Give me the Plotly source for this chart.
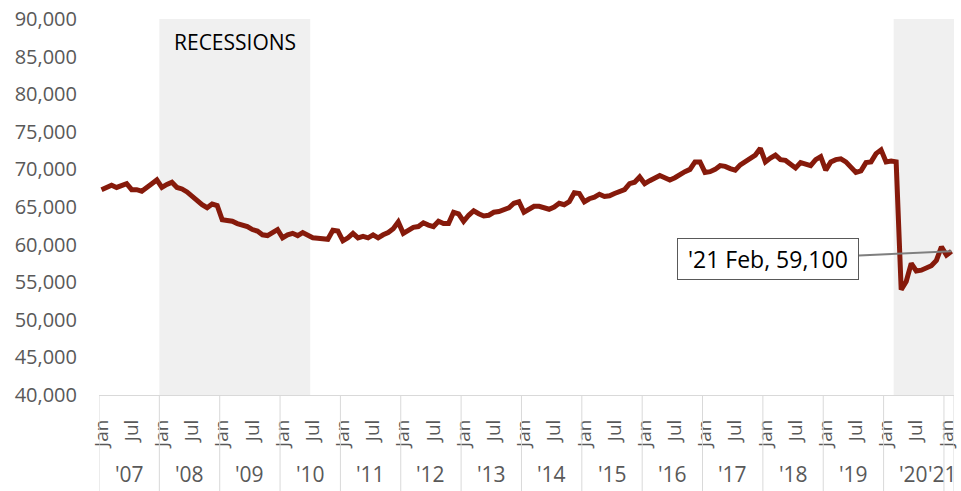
import plotly.graph_objects as go

# monthly values, Jan 2007 .. Feb 2021
month_names = ["Jan", "Feb", "Mar", "Apr", "May", "Jun",
               "Jul", "Aug", "Sep", "Oct", "Nov", "Dec"]
years = ["'07", "'08", "'09", "'10", "'11", "'12", "'13", "'14",
         "'15", "'16", "'17", "'18", "'19", "'20", "'21"]
employment = [
    67300, 67600, 67900, 67600, 67800, 68100, 67300, 67300, 67100, 67700, 68100, 68600,  # '07
    67600, 68000, 68300, 67600, 67400, 67000, 66400, 65800, 65300, 64900, 65400, 65200,  # '08
    63300, 63200, 63100, 62800, 62600, 62400, 62000, 61800, 61300, 61200, 61600, 62000,  # '09
    60900, 61300, 61500, 61200, 61600, 61300, 60900, 60850, 60800, 60700, 61900, 61800,  # '10
    60500, 60900, 61500, 60900, 61100, 60900, 61300, 60900, 61300, 61600, 62100, 63000,  # '11
    61500, 62000, 62300, 62400, 62900, 62600, 62400, 63100, 62800, 62800, 64300, 64100,  # '12
    63100, 63900, 64500, 64100, 63800, 63900, 64300, 64400, 64600, 64900, 65500, 65700,  # '13
    64300, 64800, 65100, 65100, 64900, 64700, 65000, 65500, 65300, 65700, 66900, 66800,  # '14
    65700, 66100, 66300, 66700, 66400, 66500, 66800, 67000, 67300, 68100, 68300, 69000,  # '15
    68100, 68500, 68800, 69200, 68900, 68600, 68900, 69400, 69700, 70000, 71000, 71000,  # '16
    69600, 69700, 70000, 70500, 70400, 70100, 69900, 70600, 71000, 71400, 71900, 72800,  # '17
    71000, 71500, 71900, 71300, 71200, 70700, 70200, 70900, 70700, 70500, 71300, 71700,  # '18
    69900, 71000, 71300, 71400, 71000, 70300, 69600, 69800, 70900, 71000, 72100, 72600,  # '19
    71000, 71100, 71000, 54000, 55100, 57500, 56500, 56600, 56900, 57200, 57900, 59700,  # '20
    58600, 59100,                                                                          # '21
]
# recession bands as (first month, last month) index into the series
recessions = [(12, 41), (158, 169)]

GRAY = "#595959"
LINE = "#d9d9d9"
FONT = "Open Sans, sans-serif"

n = len(employment)
cats = [f"{month_names[i % 12]} {years[i // 12]}" for i in range(n)]
tick_idx = [i for i in range(n) if i % 12 in (0, 6)]

fig = go.Figure(go.Scatter(
    x=cats, y=employment, mode="lines",
    line=dict(color="#861a0b", width=5),
    showlegend=False,
))

for start, end in recessions:
    fig.add_shape(type="rect", xref="x", yref="paper",
                  x0=start - 0.5, x1=end + 0.5, y0=0, y1=1,
                  fillcolor="#f0f0f0", line_width=0, layer="below")

# year group dividers and labels under the month ticks
for k, yr in enumerate(years):
    first = 12 * k
    last = min(12 * k + 11, n - 1)
    fig.add_shape(type="line", xref="x", yref="paper",
                  x0=first - 0.5, x1=first - 0.5, y0=0, y1=-0.26,
                  line=dict(color=LINE, width=1))
    if last - first < 11:
        # short final group: keep the label inside the page
        pos = dict(x=last + 0.5, xanchor="right", xshift=5)
    else:
        pos = dict(x=(first + last) / 2, xanchor="center")
    fig.add_annotation(y=-0.21, xref="x", yref="paper",
                       text=yr, showarrow=False, yanchor="middle",
                       font=dict(size=21, color=GRAY, family=FONT), **pos)
fig.add_shape(type="line", xref="x", yref="paper",
              x0=n - 0.5, x1=n - 0.5, y0=0, y1=-0.26,
              line=dict(color=LINE, width=1))

fig.add_annotation(x=14, y=0.94, xref="x", yref="paper", text="RECESSIONS",
                   showarrow=False, xanchor="left", yanchor="middle",
                   font=dict(size=21, color="#000000", family=FONT))

fig.add_annotation(
    x=cats[-1], y=employment[-1],
    text=f"\u00a0'21 Feb, {employment[-1]:,}\u00a0",
    showarrow=True, arrowhead=0, arrowwidth=2, arrowcolor="#7f7f7f",
    ax=-183, ay=8,
    bgcolor="white", bordercolor=GRAY, borderwidth=1, borderpad=4,
    font=dict(size=23, color="#000000", family=FONT),
)

fig.update_layout(
    width=961, height=491,
    margin=dict(l=99, r=7, t=19, b=96),
    paper_bgcolor="white", plot_bgcolor="white",
    font=dict(family=FONT, color=GRAY),
    xaxis=dict(
        type="category", range=[-0.5, n - 0.5], automargin=False,
        tickvals=[cats[i] for i in tick_idx],
        ticktext=[month_names[i % 12] for i in tick_idx],
        tickangle=-90, ticks="", showgrid=False, zeroline=False,
        showline=True, linecolor=LINE, linewidth=1,
        tickfont=dict(size=19, color=GRAY), ticklabelstandoff=16,
    ),
    yaxis=dict(
        range=[40000, 90000], dtick=5000, tickformat=",", automargin=False,
        showgrid=False, zeroline=False, showline=False, ticks="",
        tickfont=dict(size=20, color=GRAY), ticklabelstandoff=21,
    ),
)

# drop the page's default body margin so the chart sits at the window corner
fig.write_html("out.html", config={"displayModeBar": False},
               post_script="document.body.style.margin = '0';")
